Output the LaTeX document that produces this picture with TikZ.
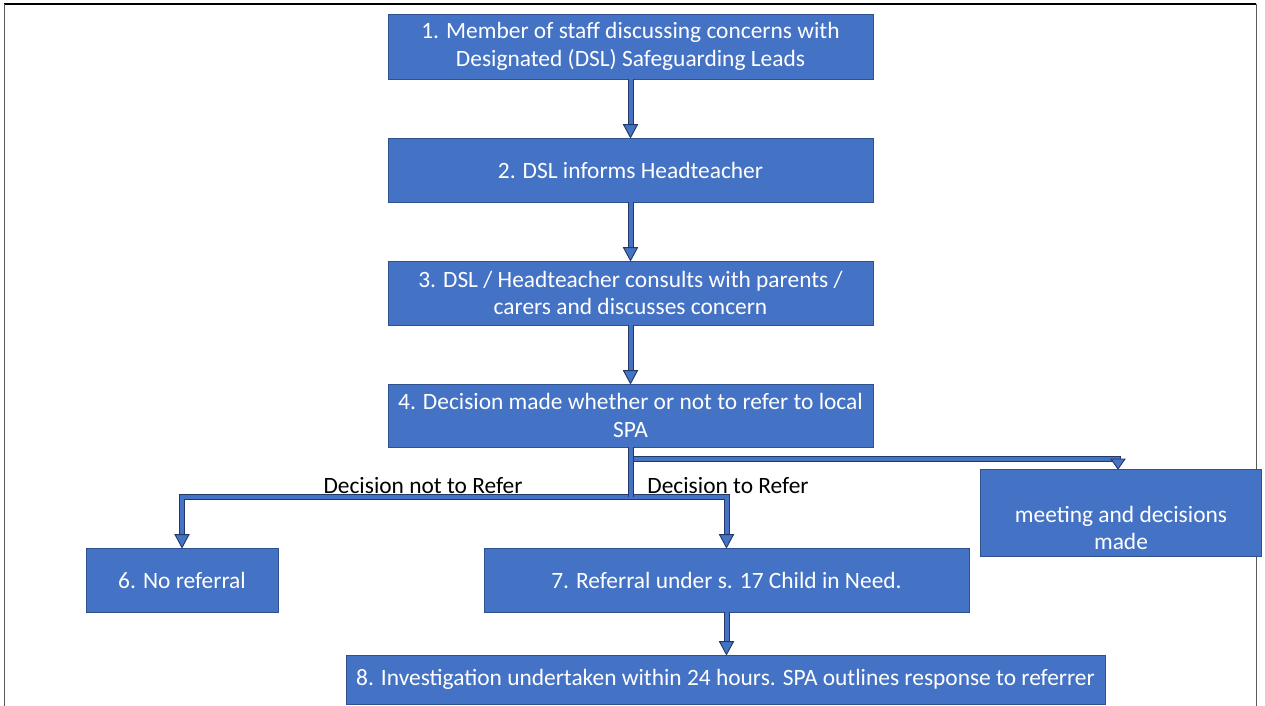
\documentclass[tikz,border=0pt]{standalone}
\usepackage{fontspec}
\setmainfont{Carlito}
\usetikzlibrary{calc}
\definecolor{boxblue}{HTML}{4472C4}
\definecolor{boxedge}{HTML}{2F528F}
\tikzset{
  stepbox/.style={draw=boxedge, line width=0.8bp, fill=boxblue, text=white, align=center,
    inner sep=0pt, font=\fontsize{23.5}{28}\selectfont},
  shaft/.style={draw=boxedge!70!black, line width=1bp, double=boxblue, double distance=4bp},
  head/.style={draw=boxedge!70!black, line width=0.9bp, fill=boxblue, line join=miter},
  lbl/.style={text=black, font=\fontsize{23.5}{28}\selectfont, inner sep=0pt},
  wtxt/.style={text=white, align=center, inner sep=0pt, font=\fontsize{23.5}{28}\selectfont}
}
\begin{document}
\begin{tikzpicture}[x=1bp,y=-1bp]
\useasboundingbox (0,0) rectangle (1265,706);
\draw[black, line width=1.6bp] (4,4) -- (1256,4);
\draw[gray!70!black, line width=0.8bp] (4,4) -- (4,706);
\draw[gray!70!black, line width=0.8bp] (1256,4) -- (1256,706);

\node[stepbox, minimum width=485bp, minimum height=65bp] (b1) at (630.5,46.5) {1. Member of staff discussing concerns with\\Designated (DSL) Safeguarding Leads};
\node[stepbox, minimum width=485bp, minimum height=64bp] (b2) at (630.5,170) {2. DSL informs Headteacher};
\node[stepbox, minimum width=485bp, minimum height=64bp] (b3) at (630.5,293) {3. DSL / Headteacher consults with parents /\\carers and discusses concern};
\node[stepbox, minimum width=485bp, minimum height=63bp] (b4) at (630.5,415.5) {4. Decision made whether or not to refer to local\\SPA};
\node[stepbox, minimum width=192bp, minimum height=64bp] (b6) at (182,580) {6. No referral};
\node[stepbox, minimum width=485bp, minimum height=64bp] (b7) at (726.5,580) {7. Referral under s. 17 Child in Need.};
\node[stepbox, minimum width=281bp, minimum height=87bp] (b5) at (1120.5,512.5) {};
\node[wtxt] (b5t) at (1121,528) {meeting and decisions\\made};
\node[stepbox, minimum width=759bp, minimum height=49bp] (b8) at (725.5,679.5) {8. Investigation undertaken within 24 hours. SPA outlines response to referrer};

\node[lbl] (l1) at (423,486) {Decision not to Refer};
\node[lbl] (l2) at (728,486) {Decision to Refer};

\coordinate (split) at (630.5,497);
\coordinate (side) at (630.5,459);
\coordinate (mtop) at (1118,469);

% straight arrows
\foreach \a/\b in {b1/b2,b2/b3,b3/b4,b7/b8}{
  \coordinate (tip) at (\a.south |- \b.north);
  \draw[shaft] (\a.south) -- ($(tip)+(0,-12)$);
  \path[head] ($(tip)+(-7,-13)$) -- (tip) -- ($(tip)+(7,-13)$) -- cycle;
}
% branch to meeting
\draw[shaft] (side) -| ($(mtop)+(0,-8)$);
\path[head] ($(mtop)+(-7,-10)$) -- (mtop) -- ($(mtop)+(7,-10)$) -- cycle;
% branch left and right
\draw[shaft] (split) -| ($(b6.north)+(0,-12)$);
\draw[shaft] (split) -| ($(b7.north)+(0,-12)$);
\draw[shaft] (b4.south) -- (split);
\path[head] ($(b6.north)+(-7,-13)$) -- (b6.north) -- ($(b6.north)+(7,-13)$) -- cycle;
\path[head] ($(b7.north)+(-7,-13)$) -- (b7.north) -- ($(b7.north)+(7,-13)$) -- cycle;
\end{tikzpicture}
\end{document}
